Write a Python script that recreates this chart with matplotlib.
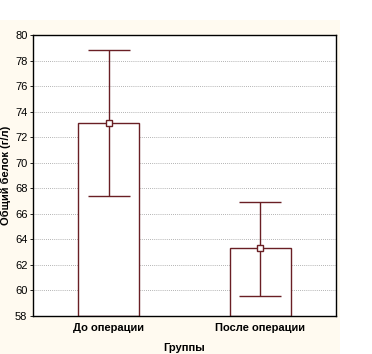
import matplotlib
matplotlib.use("Agg")
import matplotlib.pyplot as plt
from matplotlib.patches import Rectangle

groups = ["До операции", "После операции"]
means = [73.1, 63.3]
upper = [78.8, 66.9]
lower = [67.4, 59.6]
yticks = list(range(58, 81, 2))

edge = "#6a1f24"

plt.rcParams["font.family"] = ["Liberation Sans", "DejaVu Sans"]

fig = plt.figure(figsize=(3.72, 3.54), dpi=100, facecolor="white")
fig.patches.append(Rectangle((0, 0), 340 / 372, 334 / 354, transform=fig.transFigure,
                             facecolor="#fffaf0", edgecolor="none", zorder=-10))
ax = fig.add_axes([33 / 372, 1 - 316 / 354, 303 / 372, 281 / 354])

x = list(range(len(groups)))
ax.bar(x, [m - 58 for m in means], bottom=58, width=0.4, facecolor="white",
       edgecolor=edge, linewidth=1.0, zorder=2)
yerr = [[m - l for m, l in zip(means, lower)], [u - m for m, u in zip(means, upper)]]
ax.errorbar(x, means, yerr=yerr, fmt="s", color=edge, ecolor=edge, elinewidth=1.0,
            capsize=15, capthick=1.0, markersize=4.5, markerfacecolor="white",
            markeredgecolor=edge, markeredgewidth=1.0, zorder=3)

ax.set_xlim(-0.5, 1.5)
ax.set_ylim(58, 80)
ax.set_yticks(yticks)
ax.set_yticklabels([str(t) for t in yticks], fontsize=8)
ax.set_xticks(x)
ax.set_xticklabels(groups, fontsize=8, fontweight="bold")
ax.tick_params(axis="x", direction="in", length=3, width=0.8, pad=5)
ax.tick_params(axis="y", direction="out", length=2, width=0.6, pad=2, colors="black")
ax.yaxis.grid(True, linestyle=(0, (1, 1.5)), color="#9a9a9a", linewidth=0.6)
ax.set_axisbelow(True)
for s in ax.spines.values():
    s.set_linewidth(1.0)
    s.set_color("black")

ax.set_xlabel("Группы", fontsize=8, fontweight="bold", labelpad=7)
ax.set_ylabel("Общий белок (г/л)", fontsize=8, fontweight="bold", labelpad=3)

fig.savefig("out.png", dpi=100, facecolor=fig.get_facecolor())
